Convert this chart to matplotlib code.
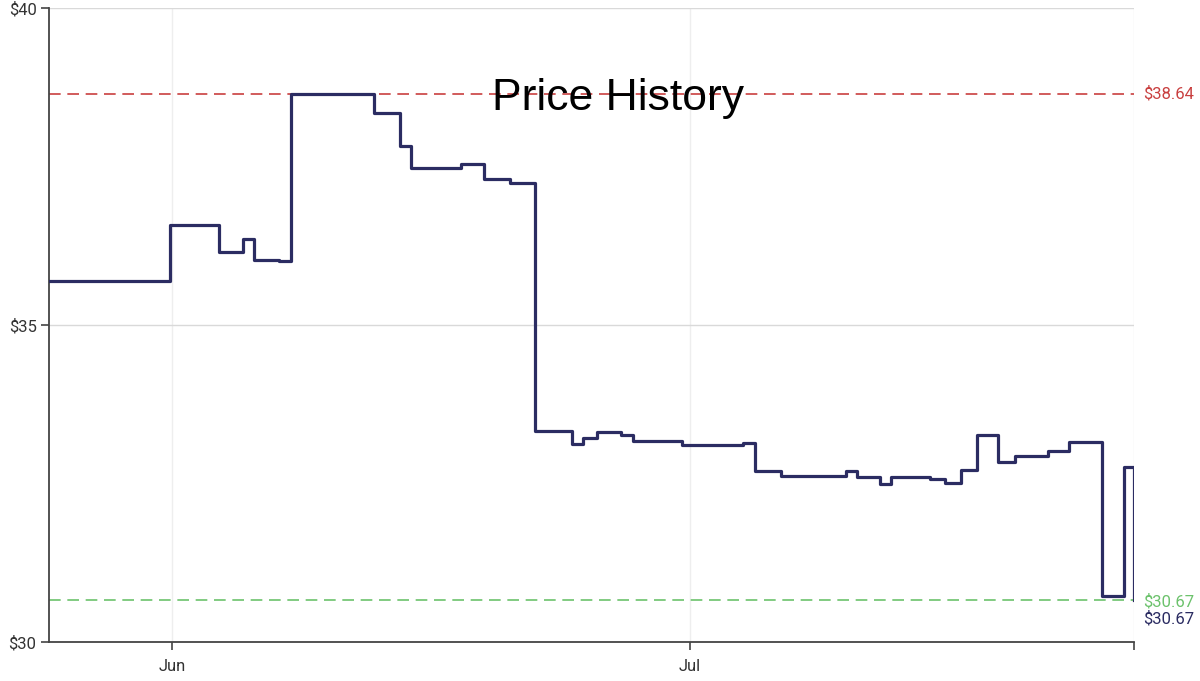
import matplotlib
matplotlib.use("Agg")
import matplotlib.pyplot as plt
import pandas as pd

# price change times (step starts) and prices
fechas = ["2024-05-24 21:00", "2024-05-31 21:13", "2024-06-03 17:20", "2024-06-05 02:40",
          "2024-06-05 18:00", "2024-06-07 04:45", "2024-06-07 21:24", "2024-06-12 16:45",
          "2024-06-14 04:50", "2024-06-14 20:10", "2024-06-17 17:45", "2024-06-19 01:40",
          "2024-06-20 13:45", "2024-06-22 00:30", "2024-06-24 04:00", "2024-06-24 19:15",
          "2024-06-25 14:40", "2024-06-27 00:00", "2024-06-27 16:50", "2024-06-30 13:00",
          "2024-07-04 01:40", "2024-07-04 18:15", "2024-07-06 06:25", "2024-07-10 00:45",
          "2024-07-10 16:00", "2024-07-12 00:00", "2024-07-12 15:20", "2024-07-14 21:35",
          "2024-07-15 18:30", "2024-07-16 16:35", "2024-07-17 14:50", "2024-07-18 20:10",
          "2024-07-19 19:40", "2024-07-21 17:30", "2024-07-22 22:50", "2024-07-24 20:40",
          "2024-07-26 03:10", "2024-07-26 17:05", "2024-07-26 17:05"]
precios = [35.69, 36.58, 36.15, 36.36, 36.03, 36.01, 38.64, 38.34,
           37.82, 37.47, 37.54, 37.30, 37.24, 33.33, 33.12, 33.22,
           33.31, 33.26, 33.17, 33.11, 33.14, 32.70, 32.62, 32.70,
           32.60, 32.49, 32.60, 32.57, 32.51, 32.71, 33.26, 32.84,
           32.93, 33.02, 33.15, 30.72, 32.76, 32.76, 30.67]

precio_max = 38.64
precio_min = 30.67
precio_actual = 30.67

x_ticks = ["2024-06-01", "2024-07-01"]
x_tick_labels = ["Jun", "Jul"]

t = pd.to_datetime(fechas)
x0, x1 = t[0], t[-1]

plt.rcParams["font.family"] = ["Roboto", "DejaVu Sans"]

fig = plt.figure(figsize=(12, 6.81), dpi=100)
ax = fig.add_axes([49 / 1200, 1 - 642 / 681, (1134 - 49) / 1200, (642 - 8) / 681])

COL_LINE = "#2b2c62"
COL_RED = "#c94040"
COL_GREEN = "#6cc26c"

ax.axhline(precio_max, color=COL_RED, lw=1.2, ls=(0, (7, 4)), zorder=2)
ax.axhline(precio_min, color=COL_GREEN, lw=1.2, ls=(0, (7, 4)), zorder=2)
ax.step(t, precios, where="post", color=COL_LINE, lw=2.3, zorder=3)

ax.set_xlim(x0, x1)
ax.set_ylim(30, 40)
ax.set_yticks([30, 35, 40])
ax.set_yticklabels(["$30", "$35", "$40"])

ticks = list(pd.to_datetime(x_ticks)) + [x1]
ax.set_xticks(ticks)
ax.set_xticklabels(x_tick_labels + [""])

ax.grid(axis="y", color="#d9d9d9", lw=1)
ax.grid(axis="x", color="#eeeeee", lw=1)
ax.set_axisbelow(True)

for s in ["top", "right"]:
    ax.spines[s].set_visible(False)
for s in ["left", "bottom"]:
    ax.spines[s].set_color("#444444")
    ax.spines[s].set_linewidth(1.3)
ax.tick_params(axis="both", colors="#444444", labelcolor="#333333",
               labelsize=12, length=6, width=1.2)
ax.tick_params(axis="x", pad=6)
ax.tick_params(axis="y", pad=3)

# etiquetas a la derecha
ax.text(1.008, precio_max, f"${precio_max:.2f}", transform=ax.get_yaxis_transform(),
        color=COL_RED, fontsize=12, va="center", ha="left")
ax.text(1.008, precio_min - 0.03, f"${precio_min:.2f}", transform=ax.get_yaxis_transform(),
        color=COL_GREEN, fontsize=12, va="center", ha="left")
ax.text(1.008, precio_actual - 0.3, f"${precio_actual:.2f}", transform=ax.get_yaxis_transform(),
        color=COL_LINE, fontsize=12, va="center", ha="left")

fig.text(618 / 1200, 1 - 110 / 681, "Price History", family="Liberation Sans",
         fontsize=32, ha="center", va="baseline", color="black")

fig.savefig("out.png", dpi=100)
